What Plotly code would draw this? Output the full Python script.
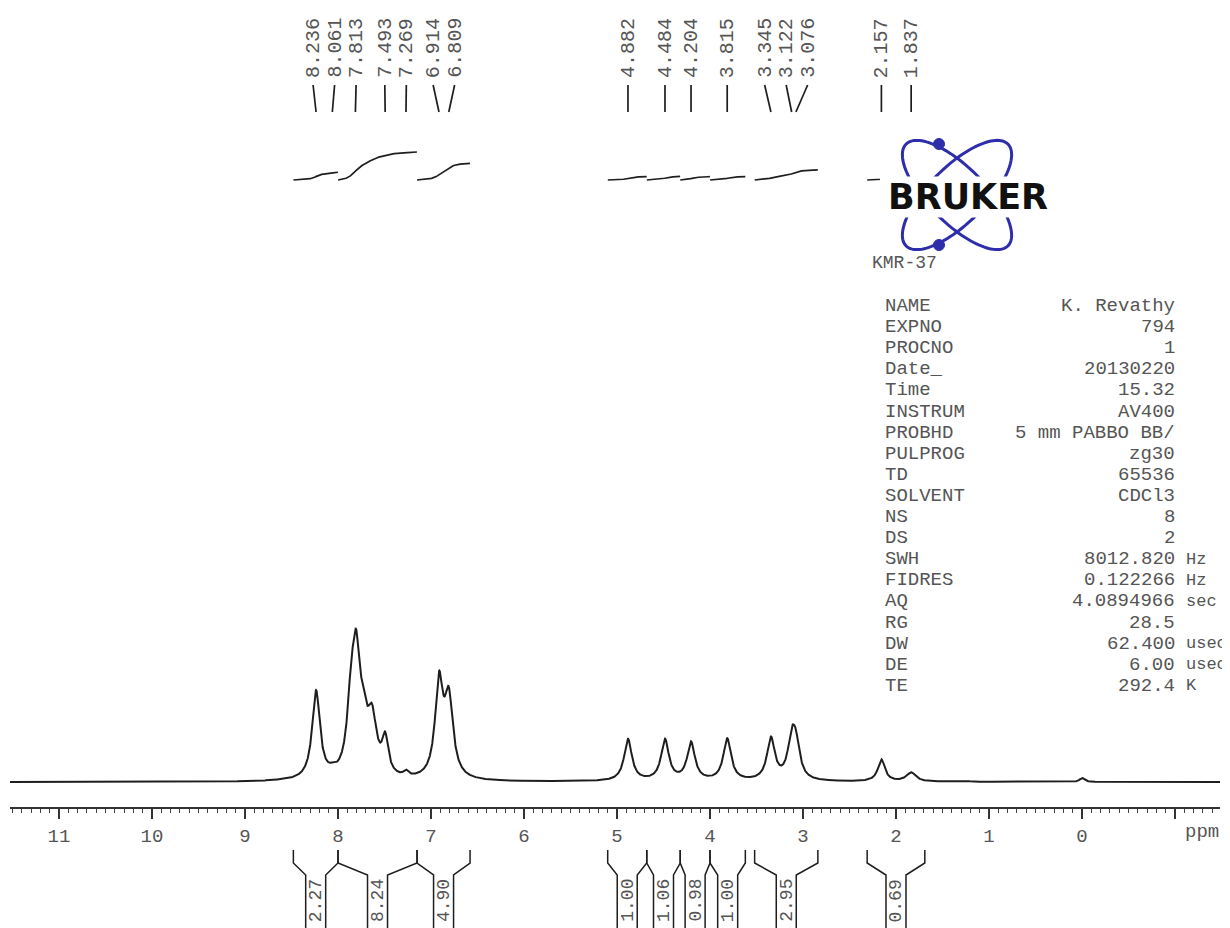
import numpy as np
import plotly.graph_objects as go

FIG_W, FIG_H = 1230, 928

# ---------------- data ----------------
# spectrum components (chemical shift, apparent amplitude, half width)
PEAK_PPM = [8.236, 8.061, 7.860, 7.805, 7.730, 7.635, 7.493, 7.269,
            6.914, 6.809, 4.882, 4.484, 4.204, 3.815, 3.345, 3.122, 3.076,
            2.157, 1.837, 1.250, 0.000]
PEAK_AMP = [88, 3, 61, 105, 38, 55, 35, 5,
            93, 77, 42, 41, 38, 42, 42, 36, 31,
            22, 9, 1, 4]
PEAK_HWHM = [0.05, 0.04, 0.05, 0.05, 0.05, 0.06, 0.04, 0.03,
             0.05, 0.055, 0.05, 0.05, 0.05, 0.05, 0.05, 0.05, 0.05,
             0.045, 0.06, 0.05, 0.03]

# peak picking labels
PICK_PPM = [8.236, 8.061, 7.813, 7.493, 7.269, 6.914, 6.809, 4.882, 4.484,
            4.204, 3.815, 3.345, 3.122, 3.076, 2.157, 1.837]
PICK_LABELS = ["8.236", "8.061", "7.813", "7.493", "7.269", "6.914", "6.809",
               "4.882", "4.484", "4.204", "3.815", "3.345", "3.122", "3.076",
               "2.157", "1.837"]

# integral regions
INT_FROM = [8.48, 8.00, 7.15, 5.10, 4.68, 4.32, 4.00, 3.52, 2.31]
INT_TO = [8.00, 7.15, 6.58, 4.68, 4.32, 4.00, 3.62, 2.84, 1.69]
INT_VALUES = [2.27, 8.24, 4.90, 1.00, 1.06, 0.98, 1.00, 2.95, 0.69]
INT_LABELS = ["2.27", "8.24", "4.90", "1.00", "1.06", "0.98", "1.00", "2.95", "0.69"]

# x axis ticks
TICK_VALS = [-1, 0, 1, 2, 3, 4, 5, 6, 7, 8, 9, 10, 11]
TICK_TEXT = ["", "0", "1", "2", "3", "4", "5", "6", "7", "8", "9", "10", "11"]

# acquisition parameters
PARAM_NAMES = ["NAME", "EXPNO", "PROCNO", "Date_", "Time", "INSTRUM", "PROBHD",
               "PULPROG", "TD", "SOLVENT", "NS", "DS", "SWH", "FIDRES", "AQ",
               "RG", "DW", "DE", "TE"]
PARAM_VALUES = ["K. Revathy", "794", "1", "20130220", "15.32", "AV400",
                "5 mm PABBO BB/", "zg30", "65536", "CDCl3", "8", "2",
                "8012.820", "0.122266", "4.0894966", "28.5", "62.400", "6.00",
                "292.4"]
PARAM_UNITS = ["", "", "", "", "", "", "", "", "", "", "", "", "Hz", "Hz", "sec",
               "", "usec", "usec", "K"]
SAMPLE_ID = "KMR-37"

# ---------------- geometry helpers (screen pixels) ----------------
OFF = 8                      # page body margin the figure sits inside
AX_L_PX, AX_R_PX = 10, 1220
X_LEFT, X_RIGHT = 11.527, -1.484
PPM_PER_PX = (X_LEFT - X_RIGHT) / (AX_R_PX - AX_L_PX)
BASE_PX = 782          # spectrum baseline (screen row)
AXIS_PX = 808          # axis line (screen row)


def Y(py):
    return BASE_PX - py


def ppm_to_px(p):
    return AX_L_PX + (X_LEFT - p) / PPM_PER_PX


def px_to_ppm(px):
    return X_LEFT - (px - AX_L_PX) * PPM_PER_PX


def PX(px):
    return (px - OFF) / FIG_W


def PY(py):
    return 1 - (py - OFF) / FIG_H


FONT = "Liberation Mono"
TXT = "#555555"
INK = "#1e1e1e"

# ---------------- spectrum ----------------
grid = np.linspace(X_LEFT, X_RIGHT, 8000)
spec = np.zeros_like(grid)
for p, a, w in zip(PEAK_PPM, PEAK_AMP, PEAK_HWHM):
    spec += a / (1 + ((grid - p) / w) ** 2)

fig = go.Figure()
fig.add_trace(go.Scatter(x=grid, y=spec, mode="lines",
                         line=dict(color=INK, width=2), hoverinfo="skip"))

# ---------------- integral curves ----------------
INT_BASE_PX = 180
INT_SCALE = 3.4
ix, iy = [], []
for a, b, v in zip(INT_FROM, INT_TO, INT_VALUES):
    m = (grid <= a) & (grid >= b)
    xs = grid[m]
    cs = np.cumsum(spec[m])
    cs = (cs - cs[0]) / (cs[-1] - cs[0])
    ys = Y(INT_BASE_PX) + v * INT_SCALE * cs
    ix += list(xs) + [None]
    iy += list(ys) + [None]
fig.add_trace(go.Scatter(x=ix, y=iy, mode="lines",
                         line=dict(color=INK, width=1.7), hoverinfo="skip"))

# ---------------- peak labels (spread apart) ----------------
MIN_GAP = 21.5 * PPM_PER_PX


def layout_group(g):
    c = sum(g) / len(g)
    n = len(g)
    return [c + ((n - 1) / 2 - k) * MIN_GAP for k in range(n)]


groups = [[p] for p in PICK_PPM]
merged = True
while merged:
    merged = False
    for i in range(len(groups) - 1):
        if layout_group(groups[i])[-1] - layout_group(groups[i + 1])[0] < MIN_GAP - 1e-9:
            groups[i] = groups[i] + groups[i + 1]
            del groups[i + 1]
            merged = True
            break
label_pos = [p for g in groups for p in layout_group(g)]

lx, ly = [], []
for lp, pp in zip(label_pos, PICK_PPM):
    lx += [lp, pp, None]
    ly += [Y(85), Y(112), None]
fig.add_trace(go.Scatter(x=lx, y=ly, mode="lines",
                         line=dict(color=INK, width=1.7), hoverinfo="skip"))

annotations = []
for lp, t in zip(label_pos, PICK_LABELS):
    annotations.append(dict(x=lp, y=Y(80), xref="x", yref="y", text=t,
                            textangle=-90, showarrow=False, xanchor="center",
                            yanchor="bottom", font=dict(family=FONT, size=20, color=TXT)))

# ---------------- integral brackets below axis ----------------
BOX_HALF = 10
bx, by = [], []
for a, b, t in zip(INT_FROM, INT_TO, INT_LABELS):
    xa, xb = ppm_to_px(a), ppm_to_px(b)
    c = (xa + xb) / 2
    for edge, inner in ((xa, c - BOX_HALF), (xb, c + BOX_HALF)):
        pts = [(edge, 850), (edge, 863), (inner, 875), (inner, 932)]
        bx += [px_to_ppm(p[0]) for p in pts] + [None]
        by += [Y(p[1]) for p in pts] + [None]
    annotations.append(dict(x=PX(c), y=PY(878), xref="paper", yref="paper", text=t,
                            textangle=-90, showarrow=False, xanchor="center",
                            yanchor="top", borderpad=0,
                            font=dict(family=FONT, size=18, color=TXT)))
fig.add_trace(go.Scatter(x=bx, y=by, mode="lines",
                         line=dict(color=INK, width=1.5), hoverinfo="skip"))

# ppm unit label
annotations.append(dict(x=PX(1202), y=PY(832), xref="paper", yref="paper", text="ppm",
                        showarrow=False, xanchor="center", yanchor="middle",
                        font=dict(family=FONT, size=19, color=TXT)))

# ---------------- Bruker logo ----------------
shapes = [dict(type="rect", xref="paper", yref="paper", layer="above",
               x0=PX(880), x1=PX(1058), y0=PY(256), y1=PY(132),
               fillcolor="white", line=dict(width=0))]
LOGO_C = (957, 195)
LOGO_A, LOGO_B = 72, 28
BLUE = "#2e2eaa"
tt = np.linspace(0, 2 * np.pi, 120)
for ang in (np.pi / 4, -np.pi / 4):
    exs = LOGO_C[0] + LOGO_A * np.cos(tt) * np.cos(ang) - LOGO_B * np.sin(tt) * np.sin(ang)
    eys = LOGO_C[1] + LOGO_A * np.cos(tt) * np.sin(ang) + LOGO_B * np.sin(tt) * np.cos(ang)
    path = "M " + " L ".join(f"{PX(u):.5f},{PY(v):.5f}" for u, v in zip(exs, eys)) + " Z"
    shapes.append(dict(type="path", xref="paper", yref="paper", layer="above",
                       path=path, line=dict(color=BLUE, width=3)))
for cx, cy in ((939, 144), (939, 245)):
    shapes.append(dict(type="circle", xref="paper", yref="paper", layer="above",
                       x0=PX(cx - 5.5), x1=PX(cx + 5.5), y0=PY(cy + 5.5), y1=PY(cy - 5.5),
                       fillcolor=BLUE, line=dict(color=BLUE, width=1)))

annotations.append(dict(x=PX(968), y=PY(197), xref="paper", yref="paper", text="<b>BRUKER</b>",
                        showarrow=False, xanchor="center", yanchor="middle",
                        bgcolor="white", borderpad=0,
                        font=dict(family="DejaVu Sans", size=35, color="#111111")))
annotations.append(dict(x=PX(870), y=PY(263), xref="paper", yref="paper", text=SAMPLE_ID,
                        showarrow=False, xanchor="left", yanchor="middle",
                        font=dict(family=FONT, size=18, color=TXT)))

# ---------------- parameter table ----------------
ROW0, ROW_STEP = 306, 21.1
for k, (n, v, u) in enumerate(zip(PARAM_NAMES, PARAM_VALUES, PARAM_UNITS)):
    yy = PY(ROW0 + k * ROW_STEP)
    annotations.append(dict(x=PX(883), y=yy, xref="paper", yref="paper", text=n,
                            showarrow=False, xanchor="left", yanchor="middle",
                            font=dict(family=FONT, size=19, color=TXT)))
    annotations.append(dict(x=PX(1177), y=yy, xref="paper", yref="paper", text=v,
                            showarrow=False, xanchor="right", yanchor="middle",
                            font=dict(family=FONT, size=19, color=TXT)))
    if u:
        annotations.append(dict(x=PX(1185), y=yy, xref="paper", yref="paper", text=u,
                                showarrow=False, xanchor="left", yanchor="middle",
                                borderpad=0,
                                font=dict(family=FONT, size=17, color=TXT)))

fig.update_layout(
    width=FIG_W, height=FIG_H,
    margin=dict(l=0, r=0, t=0, b=0),
    paper_bgcolor="white", plot_bgcolor="white",
    showlegend=False,
    xaxis=dict(domain=[(AX_L_PX - OFF) / FIG_W, (AX_R_PX - OFF) / FIG_W],
               range=[X_LEFT, X_RIGHT],
               anchor="free", position=1 - (AXIS_PX - OFF) / FIG_H,
               showline=True, linecolor="#333333", linewidth=1.6,
               showgrid=False, zeroline=False,
               tickmode="array", tickvals=TICK_VALS, ticktext=TICK_TEXT,
               ticks="outside", ticklen=10, tickwidth=1.6, tickcolor="#333333",
               minor=dict(ticks="outside", tickmode="linear", tick0=0, dtick=0.1,
                          ticklen=4, tickwidth=1, tickcolor="#444444", showgrid=False),
               tickfont=dict(family=FONT, size=19, color=TXT)),
    yaxis=dict(domain=[0, 1], range=[BASE_PX - OFF - FIG_H, BASE_PX - OFF], visible=False,
               showgrid=False, zeroline=False),
    annotations=annotations,
    shapes=shapes,
)

fig.write_html("out.html")
